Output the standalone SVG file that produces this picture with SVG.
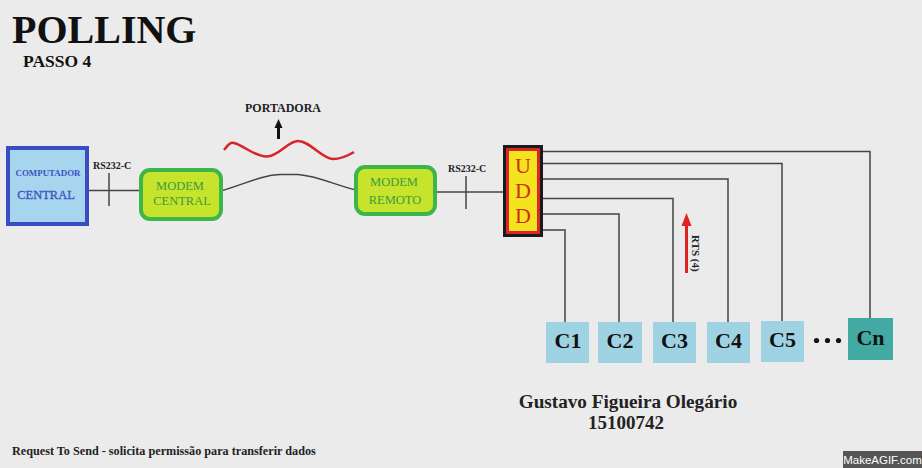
<svg xmlns="http://www.w3.org/2000/svg" width="922" height="468" viewBox="0 0 922 468">
<style>
.serif{font-family:"Liberation Serif","Times New Roman",serif}
.b{font-weight:bold}
.wire{fill:none;stroke:#444;stroke-width:1.5}
.modem{fill:#c6e42c;stroke:#3cb54a;stroke-width:4}
.mtxt{font-family:"Liberation Serif",serif;font-size:12.5px;fill:#3f9a3f;text-anchor:middle}
.cbox{fill:#9fd3e3}
.ctxt{font-family:"Liberation Serif",serif;font-size:22px;font-weight:bold;fill:#111;text-anchor:middle}
.udd{font-family:"Liberation Serif",serif;font-size:22px;fill:#d42a1c;text-anchor:middle}
</style>
<rect width="922" height="468" fill="#ebebeb"/>
<text class="serif b" x="12" y="43" font-size="40" fill="#111">POLLING</text>
<text class="serif b" x="23" y="67" font-size="17.5" fill="#111">PASSO 4</text>
<g id="connectors">
<line class="wire" x1="89" y1="190.5" x2="141" y2="190.5"/>
<line class="wire" x1="109" y1="173" x2="109" y2="206"/>
<path class="wire" d="M221,191 C245,184 262,175 280,174.5 L298,174.5 C318,176 335,185 356,190"/>
<line class="wire" x1="435" y1="192" x2="503" y2="192"/>
<line class="wire" x1="466" y1="176" x2="466" y2="209"/>
<polyline class="wire" points="543,151.5 870,151.5 870,318"/>
<polyline class="wire" points="543,163.5 782,163.5 782,321"/>
<polyline class="wire" points="543,179 728,179 728,322"/>
<polyline class="wire" points="543,198.5 673,198.5 673,322"/>
<polyline class="wire" points="543,214 619,214 619,322"/>
<polyline class="wire" points="543,230 565,230 565,322"/>
</g>
<g id="rs232-left"><text class="serif b" x="93" y="169" font-size="10" fill="#222">RS232-C</text></g>
<g id="rs232-right"><text class="serif b" x="448" y="172" font-size="10" fill="#222">RS232-C</text></g>
<g id="computador">
<rect x="8" y="148" width="79" height="76" fill="#a8d5ee" stroke="#3a4cc4" stroke-width="4"/>
<text class="serif b" x="48" y="176" font-size="8.9" fill="#3b52c5" text-anchor="middle">COMPUTADOR</text>
<text class="serif" x="46" y="199" font-size="12.5" fill="#3b52c5" text-anchor="middle" stroke="#3b52c5" stroke-width="0.3">CENTRAL</text>
</g>
<g id="modem-central">
<rect class="modem" x="141" y="170" width="80" height="49" rx="9"/>
<text class="mtxt" x="180" y="190">MODEM</text>
<text class="mtxt" x="182" y="205">CENTRAL</text>
</g>
<g id="modem-remoto">
<rect class="modem" x="356" y="167" width="79" height="47" rx="9"/>
<text class="mtxt" x="394" y="186">MODEM</text>
<text class="mtxt" x="395" y="204">REMOTO</text>
</g>
<g id="portadora">
<text class="serif b" x="245" y="111.5" font-size="12" fill="#222">PORTADORA</text>
<line x1="278.5" y1="139" x2="278.5" y2="126" stroke="#111" stroke-width="3"/>
<polygon points="278.5,119 274.5,128 282.5,128" fill="#111"/>
<path d="M224,150 C228,145 230,142 234,143 C245,146 255,157 267,156.5 C279,156 288,141 298,141 C310,141 322,159 333,159 C343,159 349,155 354,152" fill="none" stroke="#d8252a" stroke-width="2.5"/>
</g>
<g id="udd">
<rect x="504.5" y="146.5" width="37" height="89" fill="none" stroke="#1a1a1a" stroke-width="3"/>
<rect x="507.5" y="149.5" width="31" height="83" fill="#f3e41f" stroke="#d8262a" stroke-width="3"/>
<text class="udd" x="523" y="173" fill="#d8621c">U</text>
<text class="udd" x="523" y="198">D</text>
<text class="udd" x="523" y="223">D</text>
</g>
<g id="rts">
<line x1="686.5" y1="273" x2="686.5" y2="224" stroke="#e02222" stroke-width="3"/>
<polygon points="686.5,213 681.5,226 691.5,226" fill="#e02222"/>
<text class="serif b" x="0" y="0" font-size="11" fill="#222" transform="translate(692,235) rotate(90)">RTS (4)</text>
</g>
<g id="c1"><rect class="cbox" x="546" y="322" width="43" height="41"/><text class="ctxt" x="568" y="348">C1</text></g>
<g id="c2"><rect class="cbox" x="598" y="322" width="44" height="41"/><text class="ctxt" x="620" y="348">C2</text></g>
<g id="c3"><rect class="cbox" x="653" y="322" width="43" height="41"/><text class="ctxt" x="674.5" y="348">C3</text></g>
<g id="c4"><rect class="cbox" x="707" y="322" width="43" height="41"/><text class="ctxt" x="728.5" y="348">C4</text></g>
<g id="c5"><rect class="cbox" x="761" y="321" width="43" height="41"/><text class="ctxt" x="782.5" y="347">C5</text></g>
<g id="dots" fill="#111"><circle cx="816.5" cy="340.5" r="2.6"/><circle cx="827.5" cy="340.5" r="2.6"/><circle cx="838.5" cy="340.5" r="2.6"/></g>
<g id="cn"><rect x="848" y="318" width="45" height="42" fill="#43a9a3"/><text class="ctxt" x="870.5" y="345">Cn</text></g>
<text class="serif b" x="628" y="408" font-size="19.2" fill="#222" text-anchor="middle">Gustavo Figueira Olegário</text>
<text class="serif b" x="626" y="429" font-size="19" fill="#222" text-anchor="middle">15100742</text>
<text class="serif b" x="12" y="455" font-size="12.2" fill="#222">Request To Send - solicita permissão para transferir dados</text>
<g id="watermark">
<rect x="843" y="451" width="79" height="17" fill="#555"/>
<text x="882.5" y="464" font-family="Liberation Sans, Arial, sans-serif" font-size="11.5" fill="#fff" text-anchor="middle">MakeAGIF.com</text>
</g>
</svg>
